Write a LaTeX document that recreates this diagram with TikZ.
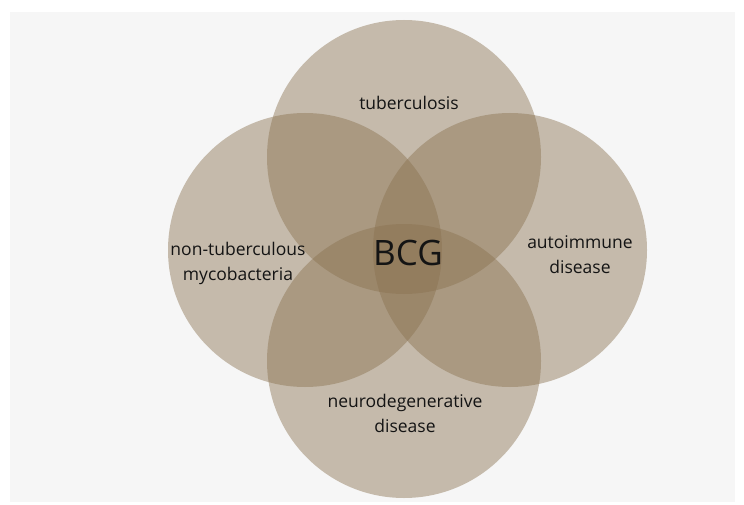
\documentclass[tikz,border=0pt]{standalone}
\usepackage{fontspec}
\setmainfont{Open Sans}
\usepackage{xcolor}
\usepackage{tikz}
\definecolor{fondo}{HTML}{F6F6F6}
\definecolor{arena}{HTML}{8A7250}
\definecolor{tinta}{HTML}{141414}
\tikzset{
  circulo/.style={fill=arena,fill opacity=0.45,draw=none},
  etiqueta/.style={text=tinta,font=\fontsize{17.5}{25}\selectfont,align=center},
}

\begin{document}
\begin{tikzpicture}[x=1pt,y=-1pt]
    % Parámetros del dibujo
    \def\r{137}      % radio de cada círculo
    \useasboundingbox (0,0) rectangle (744,505);

    % Fondo gris
    \fill[fondo] (10,12) rectangle (735,502);

    % Centros de los círculos
    \coordinate (T) at (404,157);
    \coordinate (L) at (305,250);
    \coordinate (R) at (510,250);
    \coordinate (N) at (404,361);

    % Los cuatro círculos
    \fill[circulo] (T) circle[radius=\r];
    \fill[circulo] (L) circle[radius=\r];
    \fill[circulo] (R) circle[radius=\r];
    \fill[circulo] (N) circle[radius=\r];

    % Etiquetas
    \node[etiqueta] (tb) at (409,103) {tuberculosis};
    \node[etiqueta] (ntm) at (238,263) {non-tuberculous\\mycobacteria};
    \node[etiqueta] (auto) at (580,255) {autoimmune\\disease};
    \node[etiqueta] (neuro) at (405,413) {neurodegenerative\\disease};
    \node[text=tinta,font=\fontsize{35}{42}\selectfont] (bcg) at (408,253) {BCG};
\end{tikzpicture}
\end{document}
